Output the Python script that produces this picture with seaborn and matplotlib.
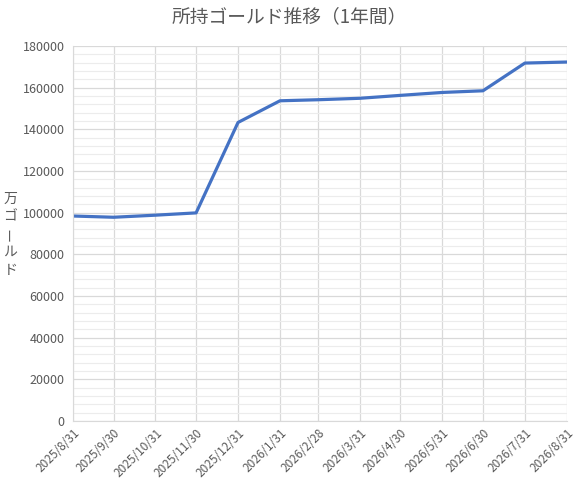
import pandas as pd
import matplotlib
matplotlib.use("Agg")
import matplotlib.pyplot as plt
from matplotlib.ticker import MultipleLocator
import seaborn as sns

line_blue = '#4472C4'
gray_text = '#595959'

dates = ["2025-08-31", "2025-09-30", "2025-10-31", "2025-11-30", "2025-12-31",
         "2026-01-31", "2026-02-28", "2026-03-31", "2026-04-30", "2026-05-31",
         "2026-06-30", "2026-07-31", "2026-08-31"]
gold = [98400, 97800, 98800, 99900, 143300, 153700, 154200,
        154900, 156300, 157700, 158500, 171800, 172300]

title = "所持ゴールド推移（1年間）"
ylabel_chars = ["万", "ゴ", "ー", "ル", "ド"]

df = pd.DataFrame({"date": pd.to_datetime(dates), "gold": gold})

sns.set_style("white")
plt.rcParams['font.family'] = ['Noto Sans CJK JP', 'DejaVu Sans']

fig = plt.figure(figsize=(5.79, 4.79), dpi=100)
ax = fig.add_axes([0.126, 0.121, 0.853, 0.783])

sns.lineplot(data=df, x="date", y="gold", color=line_blue, linewidth=2.3, ax=ax)

ax.set_xlim(df["date"].iloc[0], df["date"].iloc[-1])
ax.set_ylim(0, 180000)
ax.yaxis.set_major_locator(MultipleLocator(20000))
ax.yaxis.set_minor_locator(MultipleLocator(4000))

ax.set_xticks(df["date"])
ax.set_xticklabels([f"{d.year}/{d.month}/{d.day}" for d in df["date"]],
                   rotation=45, ha="right", rotation_mode="anchor")

ax.grid(which="major", axis="both", color="#d9d9d9", linewidth=0.9)
ax.grid(which="minor", axis="y", color="#ececec", linewidth=0.8)
ax.set_axisbelow(True)
for s in ax.spines.values():
    s.set_visible(False)
ax.spines["bottom"].set_visible(True)
ax.spines["bottom"].set_color("#d9d9d9")
ax.spines["left"].set_visible(True)
ax.spines["left"].set_color("#d9d9d9")

ax.tick_params(axis="y", which="both", length=0, labelsize=9, colors=gray_text, pad=6)
ax.tick_params(axis="x", which="both", length=0, labelsize=8.5, colors=gray_text, pad=4)
ax.set_xlabel("")
ax.set_ylabel("")

fig.text(0.5, 0.965, title, ha="center", va="center", fontsize=13.5, color=gray_text)

y0 = 0.585
for i, ch in enumerate(ylabel_chars):
    fig.text(0.018, y0 - i * 0.037, ch, ha="center", va="center", fontsize=10,
             color=gray_text, rotation=90 if ch == "ー" else 0)

fig.savefig("out.png", dpi=100)
